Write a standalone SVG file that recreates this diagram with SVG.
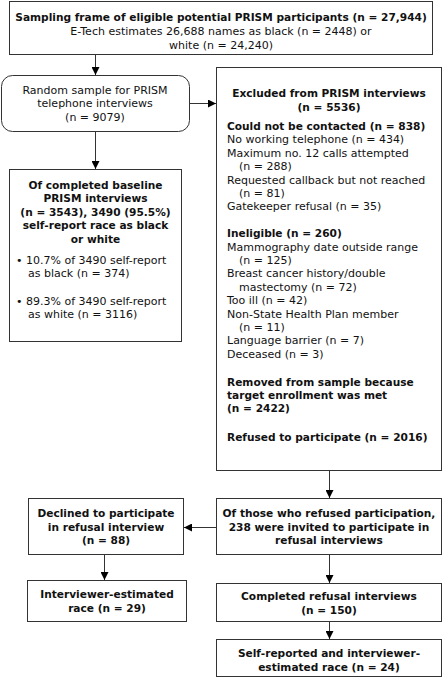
<svg xmlns="http://www.w3.org/2000/svg" width="444" height="678" viewBox="0 0 444 678">
<defs>
<marker id="ah" viewBox="0 0 8 8" refX="8" refY="4" markerWidth="8" markerHeight="8" markerUnits="userSpaceOnUse" orient="auto">
<path d="M0,0 L8,4 L0,8 Z" fill="#000"/>
</marker>
<style>
rect{fill:#fff;stroke:#333;stroke-width:1}
text{font-family:"DejaVu Sans","Verdana",sans-serif;font-size:11px;fill:#111}
.b{font-weight:bold;font-size:10.6px}
.c{text-anchor:middle}
.conn line{stroke:#333;stroke-width:1;marker-end:url(#ah)}
</style>
</defs>
<rect x="0" y="0" width="444" height="678" style="fill:#fff;stroke:none"/>
<g id="top">
<rect x="9.5" y="1.5" width="423" height="53"/>
<text class="b c" x="221" y="21">Sampling frame of eligible potential PRISM participants (n = 27,944)</text>
<text class="c" x="221" y="35">E-Tech estimates 26,688 names as black (n = 2448) or</text>
<text class="c" x="221" y="48.5">white (n = 24,240)</text>
</g>
<g id="random">
<rect x="1.5" y="75.5" width="188" height="56" rx="11"/>
<text class="c" x="95" y="94">Random sample for PRISM</text>
<text class="c" x="95" y="107.4">telephone interviews</text>
<text class="c" x="95" y="120.8">(n = 9079)</text>
</g>
<g id="baseline">
<rect x="9.5" y="169.5" width="172" height="172"/>
<text class="b c" x="95.5" y="189">Of completed baseline</text>
<text class="b c" x="95.5" y="202.4">PRISM interviews</text>
<text class="b c" x="95.5" y="215.8">(n = 3543), 3490 (95.5%)</text>
<text class="b c" x="95.5" y="229.2">self-report race as black</text>
<text class="b c" x="95.5" y="242.6">or white</text>
<text x="16" y="264">• 10.7% of 3490 self-report</text>
<text x="28" y="277.4">as black (n = 374)</text>
<text x="16" y="305">• 89.3% of 3490 self-report</text>
<text x="28" y="318.4">as white (n = 3116)</text>
</g>
<g id="excluded">
<rect x="216.5" y="67.5" width="225" height="403"/>
<text class="b c" x="329" y="97">Excluded from PRISM interviews</text>
<text class="b c" x="329" y="110.5">(n = 5536)</text>
<text class="b" x="227" y="130">Could not be contacted (n = 838)</text>
<text x="227" y="143.4">No working telephone (n = 434)</text>
<text x="227" y="156.8">Maximum no. 12 calls attempted</text>
<text x="239" y="170.2">(n = 288)</text>
<text x="227" y="183.6">Requested callback but not reached</text>
<text x="239" y="197">(n = 81)</text>
<text x="227" y="210.4">Gatekeeper refusal (n = 35)</text>
<text class="b" x="227" y="237.2">Ineligible (n = 260)</text>
<text x="227" y="250.6">Mammography date outside range</text>
<text x="239" y="264">(n = 125)</text>
<text x="227" y="277.4">Breast cancer history/double</text>
<text x="239" y="290.8">mastectomy (n = 72)</text>
<text x="227" y="304.2">Too ill (n = 42)</text>
<text x="227" y="317.6">Non-State Health Plan member</text>
<text x="239" y="331">(n = 11)</text>
<text x="227" y="344.4">Language barrier (n = 7)</text>
<text x="227" y="357.8">Deceased (n = 3)</text>
<text class="b" x="227" y="385.6">Removed from sample because</text>
<text class="b" x="227" y="399">target enrollment was met</text>
<text class="b" x="227" y="412.4">(n = 2422)</text>
<text class="b" x="227" y="441">Refused to participate (n = 2016)</text>
</g>
<g id="ofthose">
<rect x="216.5" y="498.5" width="225" height="56"/>
<text class="b c" x="329" y="517">Of those who refused participation,</text>
<text class="b c" x="329" y="530.6">238 were invited to participate in</text>
<text class="b c" x="329" y="544.2">refusal interviews</text>
</g>
<g id="declined">
<rect x="28.5" y="498.5" width="155" height="56"/>
<text class="b c" x="106" y="517">Declined to participate</text>
<text class="b c" x="106" y="530.6">in refusal interview</text>
<text class="b c" x="106" y="544.2">(n = 88)</text>
</g>
<g id="interviewer">
<rect x="27.5" y="580.5" width="159" height="41"/>
<text class="b c" x="107" y="598">Interviewer-estimated</text>
<text class="b c" x="107" y="611.6">race (n = 29)</text>
</g>
<g id="completed">
<rect x="216.5" y="583.5" width="225" height="38"/>
<text class="b c" x="329" y="600">Completed refusal interviews</text>
<text class="b c" x="329" y="613.6">(n = 150)</text>
</g>
<g id="selfreported">
<rect x="216.5" y="639.5" width="225" height="37"/>
<text class="b c" x="329" y="657">Self-reported and interviewer-</text>
<text class="b c" x="329" y="670.6">estimated race (n = 24)</text>
</g>
<g class="conn" id="connectors">
<line x1="95.5" y1="55" x2="95.5" y2="75"/>
<line x1="190" y1="103.5" x2="216" y2="103.5"/>
<line x1="95.5" y1="132" x2="95.5" y2="169"/>
<line x1="329.5" y1="471" x2="329.5" y2="498"/>
<line x1="216" y1="527.5" x2="184" y2="527.5"/>
<line x1="104.5" y1="555" x2="104.5" y2="580"/>
<line x1="329.5" y1="555" x2="329.5" y2="583"/>
<line x1="329.5" y1="622" x2="329.5" y2="639"/>
</g>
</svg>
